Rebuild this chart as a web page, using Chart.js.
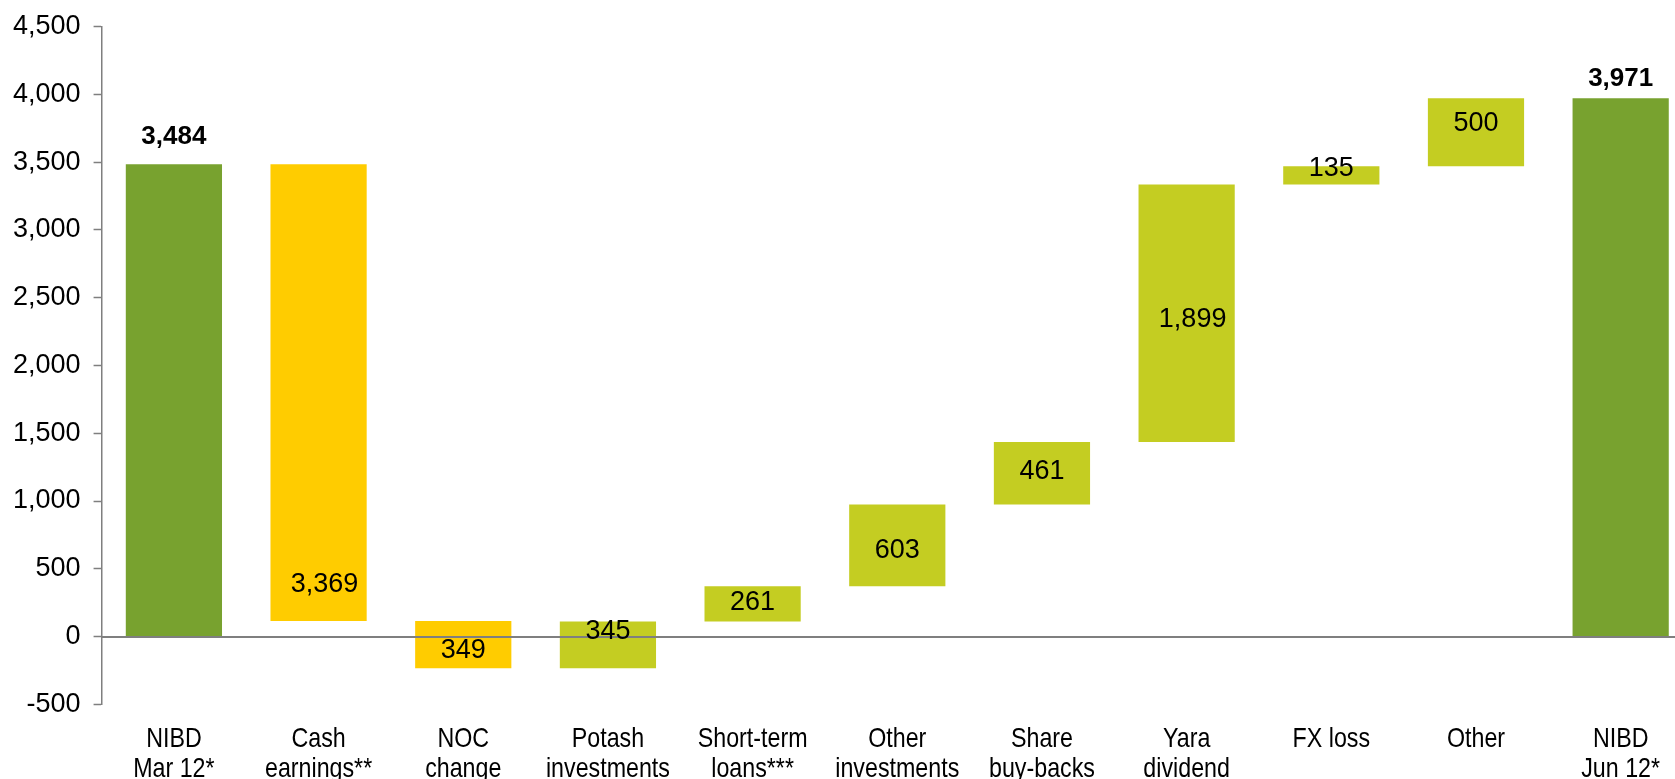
<!DOCTYPE html>
<html>
<head>
<meta charset="utf-8">
<script src="https://cdn.jsdelivr.net/npm/chart.js@4/dist/chart.umd.min.js"></script>
<style>
  html, body { margin: 0; padding: 0; overflow: hidden; background: #fff; }
  #wrap { position: absolute; left: 0; top: 0; width: 1700px; height: 800px; }
</style>
</head>
<body>
<div id="wrap"><canvas id="nibdChart"></canvas></div>
<script>
var categories = [
    ["NIBD", "Mar 12*"], ["Cash", "earnings**"], ["NOC", "change"], ["Potash", "investments"],
    ["Short-term", "loans***"], ["Other", "investments"], ["Share", "buy-backs"], ["Yara", "dividend"],
    ["FX loss"], ["Other"], ["NIBD", "Jun 12*"]
];
var startTotal = 3484;
var endTotal = 3971;
// change in NIBD for each step between the two totals
var changes = [-3369, -349, 345, 261, 603, 461, 1899, 135, 500];
var yTicks = { min: -500, max: 4500, step: 500 };

// where each value label sits inside its bar (0 = bottom, 1 = top) and its x nudge
var labelFrac = [1.057, 0.08, 0.375, 0.794, 0.534, 0.437, 0.523, 0.476, 0.87, 0.625, 1.0355];
var labelDx = [0, 6, 0, 0, 0, 0, 0, 6, 0, 0, 0];

var green = "#78A22F", yellow = "#FFCC00", lime = "#C4CD22";
var catFont = "28px 'Liberation Sans', Arial, sans-serif";

// build floating bars from the running total
var floating = [[0, startTotal]];
var labels = [startTotal];
var colors = [green];
var run = startTotal;
changes.forEach(function (c) {
    floating.push([run, run + c]);
    labels.push(Math.abs(c));
    colors.push(c < 0 ? yellow : lime);
    run += c;
});
floating.push([0, endTotal]);
labels.push(endTotal);
colors.push(green);

var fmt = new Intl.NumberFormat("en-US");

var overlay = {
    id: "overlay",
    afterDatasetsDraw: function (chart) {
        var ctx = chart.ctx, x = chart.scales.x, y = chart.scales.y, area = chart.chartArea;
        var meta = chart.getDatasetMeta(0);
        ctx.save();
        // zero line on top of the bars
        var y0 = Math.round(y.getPixelForValue(0));
        ctx.strokeStyle = "#7f7f7f";
        ctx.lineWidth = 2;
        ctx.beginPath();
        ctx.moveTo(area.left, y0);
        ctx.lineTo(area.right, y0);
        ctx.stroke();

        ctx.fillStyle = "#000";
        ctx.textAlign = "center";
        ctx.textBaseline = "middle";
        meta.data.forEach(function (bar, i) {
            var lo = Math.min(floating[i][0], floating[i][1]);
            var hi = Math.max(floating[i][0], floating[i][1]);
            var isTotal = (i === 0 || i === floating.length - 1);
            ctx.font = isTotal ? "bold 26px 'Liberation Sans', Arial, sans-serif"
                               : "27px 'Liberation Sans', Arial, sans-serif";
            var v = lo + (hi - lo) * labelFrac[i];
            ctx.fillText(fmt.format(labels[i]), bar.x + labelDx[i], y.getPixelForValue(v));
        });

        // category labels, narrow like the original
        ctx.font = catFont;
        categories.forEach(function (lines, i) {
            var cx = x.getPixelForTick(i);
            lines.forEach(function (t, j) {
                ctx.save();
                ctx.translate(cx, area.bottom + 35 + j * 30);
                ctx.scale(0.83, 1);
                ctx.fillText(t, 0, 0);
                ctx.restore();
            });
        });
        ctx.restore();
    }
};

var ctx = document.getElementById("nibdChart");
var myChart = new Chart(ctx, {
    type: "bar",
    data: {
        labels: categories,
        datasets: [{
            data: floating,
            backgroundColor: colors,
            borderWidth: 0,
            categoryPercentage: 1,
            barPercentage: 0.665
        }]
    },
    options: {
        responsive: true,
        maintainAspectRatio: false,
        animation: false,
        layout: { padding: { left: 0, right: 7, top: -6, bottom: 10 } },
        plugins: {
            legend: { display: false },
            tooltip: { enabled: false }
        },
        scales: {
            x: {
                grid: { display: false, drawTicks: false },
                border: { display: false },
                ticks: {
                    color: "rgba(0,0,0,0)",
                    padding: 12,
                    maxRotation: 0,
                    autoSkip: false,
                    font: { family: "'Liberation Sans', sans-serif", size: 28, lineHeight: 1.1 }
                }
            },
            y: {
                min: yTicks.min,
                max: yTicks.max,
                grid: { drawOnChartArea: false, drawTicks: true, tickLength: 8, tickColor: "#7f7f7f", tickWidth: 1.5 },
                border: { display: true, color: "#7f7f7f", width: 1.5 },
                ticks: {
                    stepSize: yTicks.step,
                    color: "#000",
                    padding: 13,
                    font: { family: "'Liberation Sans', Arial, sans-serif", size: 27, lineHeight: 1.0 },
                    callback: function (v) { return fmt.format(v); }
                }
            }
        }
    },
    plugins: [overlay]
});
</script>
</body>
</html>
